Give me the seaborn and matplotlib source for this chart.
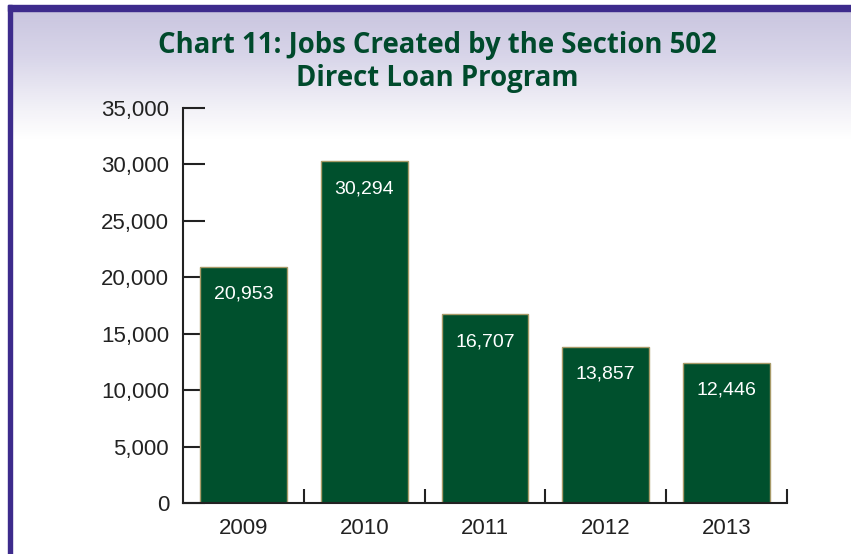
# Chart 11: Jobs Created by the Section 502 Direct Loan Program

import numpy as np
import pandas as pd
import seaborn as sns
import matplotlib.pyplot as plt
from matplotlib.colors import LinearSegmentedColormap
from matplotlib.patches import Rectangle

years = ["2009", "2010", "2011", "2012", "2013"]
jobs = [20953, 30294, 16707, 13857, 12446]

df = pd.DataFrame({"year": years, "jobs": jobs})

sns.set_style("ticks")
plt.rcParams["font.family"] = ["Liberation Sans", "DejaVu Sans"]

green = "#00502d"
fig = plt.figure(figsize=(8.51, 5.54), dpi=100)

# background gradient (lavender at top fading to white)
bg = fig.add_axes([0, 0, 1, 1], zorder=-10)
grad = np.linspace(0, 1, 512).reshape(-1, 1)
cmap = LinearSegmentedColormap.from_list(
    "bg", [(0, "#c6c2dd"), (0.1, "#d8d5e9"), (0.2, "#f4f3f8"), (0.25, "#ffffff"), (1, "#ffffff")])
bg.imshow(grad, aspect="auto", cmap=cmap, extent=[0, 1, 0, 1], origin="upper",
          transform=bg.transAxes)
bg.set_xlim(0, 1)
bg.set_ylim(0, 1)
bg.axis("off")
# purple frame on top and left
bg.add_patch(Rectangle((0, 1 - 5 / 554), 1, 5 / 554, color="white", transform=bg.transAxes))
bg.add_patch(Rectangle((0, 0), 8 / 851, 1, color="white", transform=bg.transAxes))
bg.add_patch(Rectangle((8 / 851, 1 - 11 / 554), 1, 6 / 554, color="#3d2b8c", transform=bg.transAxes))
bg.add_patch(Rectangle((8 / 851, 0), 4 / 851, 1 - 5 / 554, color="#3d2b8c", transform=bg.transAxes))

ax = fig.add_axes([183 / 851, 1 - 503 / 554, (787 - 183) / 851, (503 - 108) / 554])
ax.patch.set_alpha(0)

sns.barplot(data=df, x="year", y="jobs", hue="year", palette=[green] * len(years),
            legend=False, width=0.72, edgecolor="#a89a68", linewidth=1, ax=ax, saturation=1)

for i, v in enumerate(jobs):
    ax.text(i, v - 1700, f"{v:,}", ha="center", va="top", color="white", fontsize=14)

ax.set_ylim(0, 35000)
ax.set_xlim(-0.5, 4.5)
ax.set_yticks(range(0, 35001, 5000))
ax.yaxis.set_major_formatter(plt.FuncFormatter(lambda v, p: f"{int(v):,}"))
ax.tick_params(axis="y", direction="in", length=16, width=1.5, color="#222222",
               labelsize=16, labelcolor="#222222", pad=10)
ax.tick_params(axis="x", which="major", length=0, labelsize=16, labelcolor="#222222", pad=11)
ax.set_xticks(np.arange(0.5, 4.6, 1), minor=True)
ax.tick_params(axis="x", which="minor", direction="in", length=10, width=1.5, color="#222222")
ax.set_xlabel("")
ax.set_ylabel("")
sns.despine(ax=ax)
for s in ["left", "bottom"]:
    ax.spines[s].set_linewidth(1.5)
    ax.spines[s].set_color("#222222")

fig.text(437 / 851, 1 - 62 / 554, "Chart 11: Jobs Created by the Section 502\nDirect Loan Program",
         ha="center", va="center", fontsize=19.8, fontweight="bold", color="#004a2c",
         family=["Open Sans", "DejaVu Sans"], linespacing=1.15)

fig.savefig("out.png", dpi=100)
plt.close()
